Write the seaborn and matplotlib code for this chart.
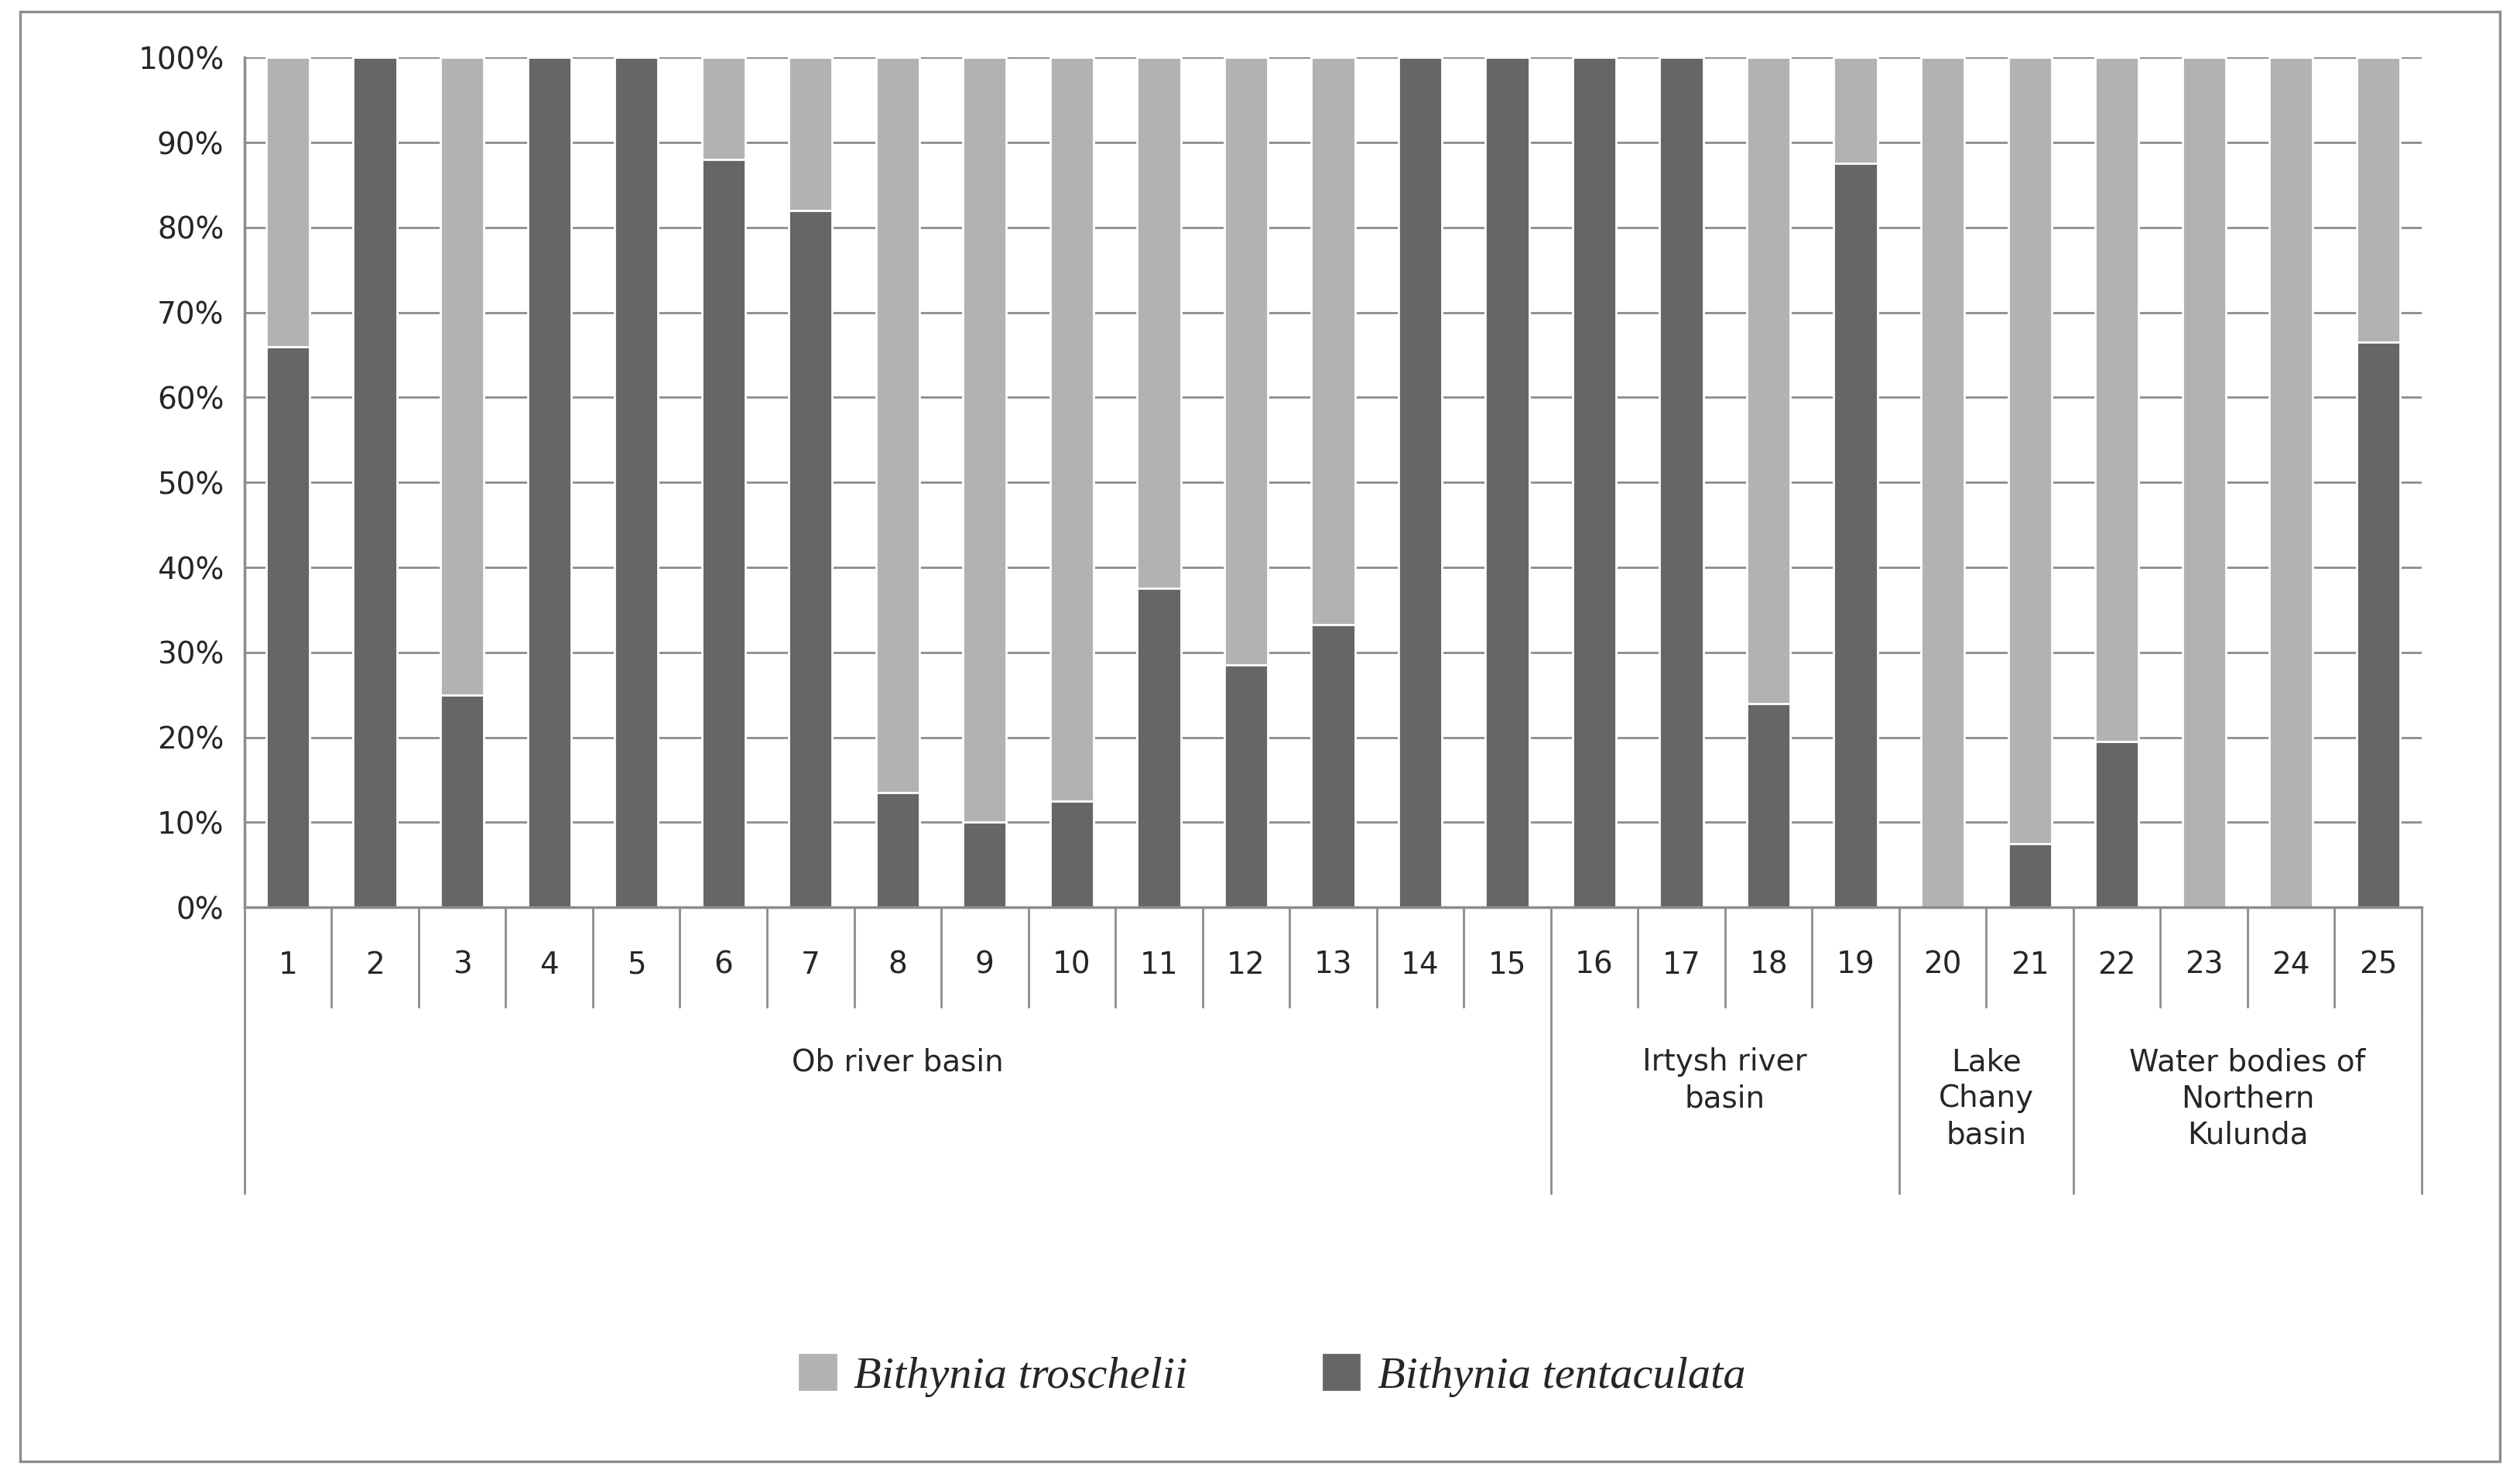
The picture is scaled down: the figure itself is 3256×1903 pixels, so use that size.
import matplotlib
matplotlib.use("Agg")
import matplotlib.pyplot as plt
import matplotlib.patches as mpatches
import seaborn as sns
import pandas as pd

sites = [str(i) for i in range(1, 26)]
tentaculata = [66, 100, 25, 100, 100, 88, 82, 13.5, 10, 12.5, 37.5, 28.5, 33.3, 100, 100,
               100, 100, 24, 87.5, 0, 7.5, 19.5, 0, 0, 66.5]
troschelii = [100 - v for v in tentaculata]
groups = ["Ob river basin", "Irtysh river\nbasin", "Lake\nChany\nbasin", "Water bodies of\nNorthern\nKulunda"]
group_sizes = [15, 4, 2, 4]

light, dark = "#b2b2b2", "#666666"

sns.set_theme(style="white")
plt.rcParams['font.family'] = ['DejaVu Sans']

df = pd.DataFrame({"site": sites, "tent": tentaculata, "total": [t + r for t, r in zip(tentaculata, troschelii)]})

fig = plt.figure(figsize=(16.28, 9.515), dpi=200)
ax = fig.add_axes([0.097, 0.384, 0.864, 0.577])
sns.barplot(data=df, x="site", y="total", order=sites, color=light, width=0.5, ax=ax, saturation=1)
sns.barplot(data=df, x="site", y="tent", order=sites, color=dark, width=0.5, ax=ax, saturation=1)

ax.set_xlim(-0.5, 24.5)
ax.set_ylim(0, 100)
ax.set_yticks(range(0, 101, 10))
ax.set_yticklabels([f"{v}%" for v in range(0, 101, 10)], fontsize=14)
ax.yaxis.grid(True, color="#8c8c8c", lw=1)
ax.set_axisbelow(True)
ax.set_xlabel("")
ax.set_ylabel("")
ax.set_xticks(range(25))
ax.set_xticklabels([])
ax.tick_params(axis="x", length=0)
for s in ["top", "right"]:
    ax.spines[s].set_visible(False)
ax.spines["left"].set_color("#8c8c8c")
ax.spines["bottom"].set_color("#8c8c8c")

tr = ax.get_xaxis_transform()
lc = "#8c8c8c"
for i, s in enumerate(sites):
    ax.text(i, -0.068, s, transform=tr, ha="center", va="center", fontsize=14)
for i in range(26):
    ax.plot([i - 0.5, i - 0.5], [0, -0.117], transform=tr, color=lc, lw=1, clip_on=False)
start = 0
bounds = [0]
for g, n in zip(groups, group_sizes):
    ax.text(start + n / 2 - 0.5, -0.165, g, transform=tr, ha="center", va="top", fontsize=14, linespacing=1.3)
    start += n
    bounds.append(start)
for b in bounds:
    ax.plot([b - 0.5, b - 0.5], [-0.117, -0.337], transform=tr, color=lc, lw=1, clip_on=False)

handles = [mpatches.Patch(color=light, label="Bithynia troschelii"),
           mpatches.Patch(color=dark, label="Bithynia tentaculata")]
fig.legend(handles=handles, loc="center", bbox_to_anchor=(0.505, 0.066), ncol=2, frameon=False,
           prop={"family": "Liberation Serif", "style": "italic", "size": 21},
           handlelength=0.8, handleheight=0.8, columnspacing=3, handletextpad=0.4)

fig.patches.append(mpatches.Rectangle((0.008, 0.008), 0.984, 0.984, transform=fig.transFigure,
                                      fill=False, edgecolor="#8c8c8c", lw=1.2))
fig.savefig("out.png", dpi=200)
